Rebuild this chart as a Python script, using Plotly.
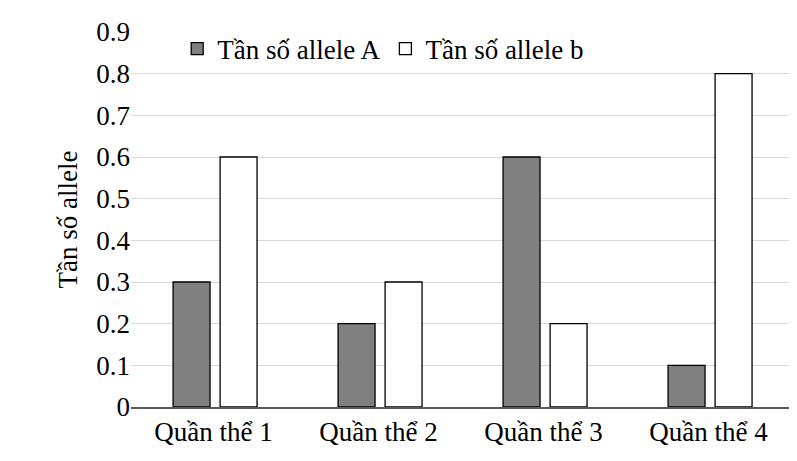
import plotly.graph_objects as go

categories = ["Quần thể 1", "Quần thể 2", "Quần thể 3", "Quần thể 4"]
allele_a = [0.3, 0.2, 0.6, 0.1]
allele_b = [0.6, 0.3, 0.2, 0.8]
y_ticks = [0, 0.1, 0.2, 0.3, 0.4, 0.5, 0.6, 0.7, 0.8, 0.9]
y_labels = ["0", "0.1", "0.2", "0.3", "0.4", "0.5", "0.6", "0.7", "0.8", "0.9"]

font = "Liberation Serif"
fs = 27

fig = go.Figure()
fig.add_trace(go.Bar(x=categories, y=allele_a, name="Tần số allele A",
                     width=0.224, offset=-0.245,
                     marker=dict(color="#808080", line=dict(color="black", width=1.3))))
fig.add_trace(go.Bar(x=categories, y=allele_b, name="Tần số allele b",
                     width=0.224, offset=0.04,
                     marker=dict(color="white", line=dict(color="black", width=1.3))))

fig.update_layout(
    width=797, height=461,
    margin=dict(l=123, r=14, t=24, b=62),
    plot_bgcolor="white", paper_bgcolor="white",
    font=dict(family=font, size=fs, color="black"),
    barmode="overlay",
    showlegend=True,
    legend=dict(orientation="h", x=0.07, y=1.02, xanchor="left", yanchor="top",
                font=dict(size=fs), bgcolor="rgba(0,0,0,0)", itemwidth=30),
    xaxis=dict(showline=True, linecolor="#595959", linewidth=1.5, ticks="",
               tickfont=dict(size=fs), automargin=False),
    yaxis=dict(range=[0, 0.9], tickvals=y_ticks, ticktext=y_labels,
               showgrid=True, gridcolor="#d9d9d9", gridwidth=1, zeroline=False,
               showline=False, ticks="", tickfont=dict(size=fs), automargin=False,
               title=dict(text="Tần số allele", font=dict(size=fs), standoff=10)),
)

fig.write_html("out.html")
